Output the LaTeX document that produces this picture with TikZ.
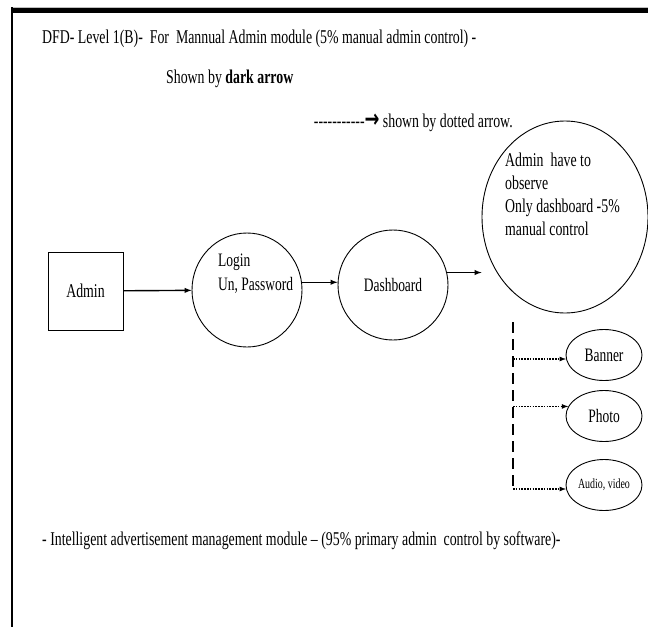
\documentclass[tikz,border=0pt]{standalone}
\usepackage{fontspec}
\setmainfont{Liberation Serif}
\newfontfamily\arrowfont{DejaVu Sans}
\usetikzlibrary{shapes.geometric}
\newcommand{\nar}[1]{\scalebox{0.71}[1]{#1}}

\begin{document}
\begin{tikzpicture}[x=1pt, y=1pt,
        txt/.style={font=\fontsize{19.5}{23}\selectfont, inner sep=0pt},
        proc/.style={draw, ellipse, line width=0.9pt, inner sep=0pt, font=\fontsize{19}{23}\selectfont},
        flow/.style={-latex, line width=1.4pt},
        dotflow/.style={-latex, line width=1.2pt, dash pattern=on 1.6pt off 1.2pt}]

        \useasboundingbox (0,0) rectangle (648,-627);

        % page frame
        \draw[line width=6pt] (11,-10) -- (648,-10);
        \draw[gray!50, line width=0.8pt] (11,-7.5) -- (648,-7.5);
        \draw[line width=2pt] (12,-7) -- (12,-627);

        \node[txt, anchor=base west] (title) at (42,-43) {\nar{DFD- Level 1(B)-\ \ For\ \ Mannual Admin module (5\% manual admin control) -}};
        \node[txt, anchor=base west] (shown) at (166,-83) {\nar{Shown by \textbf{dark arrow}}};
        \node[txt, anchor=base east] (legend) at (513,-127) {\nar{-{}-{}-{}-{}-{}-{}-{}-{}-{}-{}-{\arrowfont\bfseries\fontsize{25}{25}\selectfont →}\ shown by dotted arrow.}};

        \node[draw, line width=0.9pt, minimum width=75pt, minimum height=78pt, txt] (admin) at (85.5,-291) {\nar{Admin}};
        \node[proc, minimum width=110pt, minimum height=114pt] (login) at (247,-290) {};
        \node[txt, anchor=north west, align=left, font=\fontsize{19}{24}\selectfont] (logintxt) at (218,-254) {\nar{Login}\\\nar{Un, Password}};
        \node[proc, minimum size=110pt] (dash) at (393,-285) {\nar{Dashboard}};
        \node[proc, minimum width=166pt, minimum height=192pt] (observe) at (565,-217) {};
        \node[txt, anchor=north west, align=left] (observetxt) at (505,-153) {\nar{Admin\ \ have to}\\\nar{observe}\\\nar{Only dashboard -5\%}\\\nar{manual control}};

        \draw[flow] (admin) -- (login);
        \draw[flow] (login.8) -- (login.8 -| dash.west);
        \draw[flow] (dash.13) -- (dash.13 -| observe.west);

        \foreach \n/\y/\t in {banner/355/{Banner}, photo/416/{Photo}, audio/485/{\fontsize{14}{16}\selectfont Audio, video}}
            \node[proc, minimum width=76pt, minimum height=51pt] (\n) at (604,-\y) {\nar{\t}};

        \coordinate (bustop) at (513,-322);
        \coordinate (busbot) at (513,-490);
        \draw[line width=1.8pt, dash pattern=on 11pt off 6pt] (bustop) -- (busbot);

        \foreach \n/\a in {banner/186, photo/165, audio/186}
            \draw[dotflow] (bustop |- \n.\a) -- (\n.\a);

        \node[txt, anchor=base west] (footer) at (42,-545) {\nar{- Intelligent advertisement management module -- (95\% primary admin\ \ control by software)-}};

    \end{tikzpicture}
\end{document}
